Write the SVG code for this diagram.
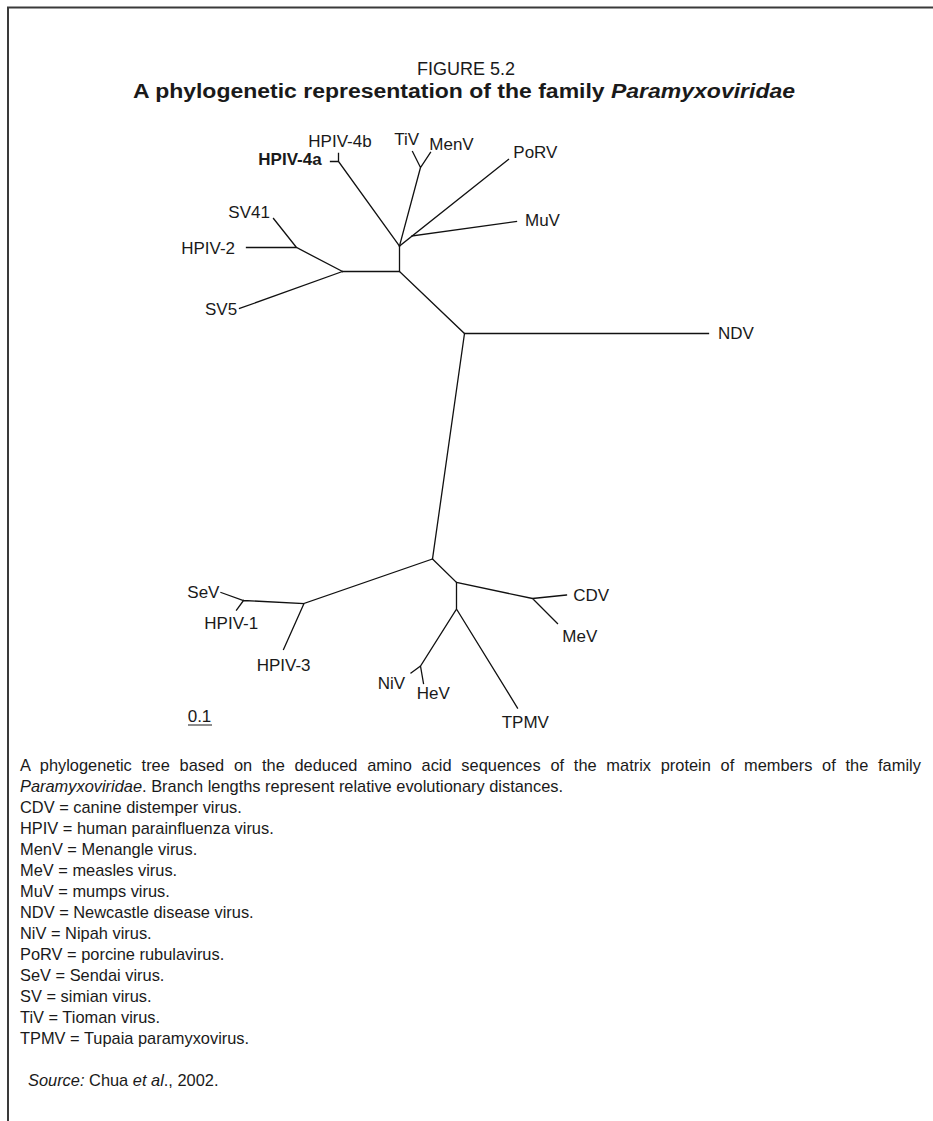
<svg xmlns="http://www.w3.org/2000/svg" width="933" height="1121" viewBox="0 0 933 1121">
<style>
.frame{stroke:#3a3a3a;stroke-width:2;fill:none}
.br{stroke:#111;stroke-width:1.3;fill:none;stroke-linecap:square}
.lb{font-family:"Liberation Sans",Arial,sans-serif;font-size:17px;fill:#1a1a1a}
.lbb{font-family:"Liberation Sans",Arial,sans-serif;font-size:17px;font-weight:bold;fill:#1a1a1a}
.cap{font-family:"Liberation Sans",Arial,sans-serif;font-size:16.4px;fill:#1a1a1a}
.t1{font-family:"Liberation Sans",Arial,sans-serif;font-size:18px;fill:#1a1a1a}
.t2{font-family:"Liberation Sans",Arial,sans-serif;font-size:20px;font-weight:bold;fill:#1a1a1a}
</style>
<rect width="933" height="1121" fill="#ffffff"/>
<g id="frame">
<path class="frame" d="M933 7.5 H8 V1121"/>
</g>
<g id="title">
<text class="t1" x="466" y="75" text-anchor="middle">FIGURE 5.2</text>
<text class="t2" x="133" y="98" textLength="662" lengthAdjust="spacingAndGlyphs">A phylogenetic representation of the family <tspan font-style="italic">Paramyxoviridae</tspan></text>
</g>
<g id="connectors">
<path class="br" d="M342.5 271.5 H399.5 V246"/>
<path class="br" d="M399.5 246 L338.5 161.5 V153.5 M338.5 161.5 H330.5"/>
<path class="br" d="M399.5 246 L420.5 167.5 L412.5 151.5 M420.5 167.5 L430.5 152.5"/>
<path class="br" d="M399.5 246 L508.5 159.5"/>
<path class="br" d="M412 236 L516.5 221.5"/>
<path class="br" d="M342.5 271.5 L239.5 308.5"/>
<path class="br" d="M342.5 271.5 L296.5 247.5 H246.5 M296.5 247.5 L273.5 218.5"/>
<path class="br" d="M399.5 271.5 L464.5 333.5 H708.5"/>
<path class="br" d="M464.5 333.5 L432.5 559"/>
<path class="br" d="M432.5 559 L304 603.5 L283.5 649.5 M304 603.5 L243.5 600.5 L221 592.5 M243.5 600.5 L236.5 610"/>
<path class="br" d="M432.5 559 L456.5 582.5 L532.5 598.5 L566.5 595 M532.5 598.5 L557.5 623.5"/>
<path class="br" d="M456.5 582.5 V609 L420.5 666 L411 673 M420.5 666 L423.5 683.5 M456.5 609 L517.5 708"/>
</g>
<g id="node-HPIV-4b"><text class="lb" x="308.3" y="146.5">HPIV-4b</text></g>
<g id="node-HPIV-4a"><text class="lbb" x="258.3" y="165">HPIV-4a</text></g>
<g id="node-TiV"><text class="lb" x="394.3" y="145">TiV</text></g>
<g id="node-MenV"><text class="lb" x="429.3" y="150">MenV</text></g>
<g id="node-PoRV"><text class="lb" x="513.3" y="157.5">PoRV</text></g>
<g id="node-MuV"><text class="lb" x="525" y="226">MuV</text></g>
<g id="node-SV41"><text class="lb" x="228.3" y="218">SV41</text></g>
<g id="node-HPIV-2"><text class="lb" x="235" y="254" text-anchor="end">HPIV-2</text></g>
<g id="node-SV5"><text class="lb" x="205" y="315">SV5</text></g>
<g id="node-NDV"><text class="lb" x="718" y="339">NDV</text></g>
<g id="node-SeV"><text class="lb" x="187.3" y="597.5">SeV</text></g>
<g id="node-HPIV-1"><text class="lb" x="204.3" y="628.5">HPIV-1</text></g>
<g id="node-HPIV-3"><text class="lb" x="256.7" y="671">HPIV-3</text></g>
<g id="node-NiV"><text class="lb" x="377.7" y="688.5">NiV</text></g>
<g id="node-HeV"><text class="lb" x="416.7" y="699">HeV</text></g>
<g id="node-TPMV"><text class="lb" x="501.7" y="727.5">TPMV</text></g>
<g id="node-CDV"><text class="lb" x="573.3" y="601">CDV</text></g>
<g id="node-MeV"><text class="lb" x="562.3" y="641.5">MeV</text></g>
<g id="scale">
<text class="lb" x="187.7" y="722">0.1</text>
<line x1="188" y1="725" x2="212" y2="725" stroke="#1a1a1a" stroke-width="1"/>
</g>
<g id="caption">
<text class="cap" x="20" y="771" word-spacing="5.2">A phylogenetic tree based on the deduced amino acid sequences of the matrix protein of members of the family</text>
<text class="cap" x="20" y="792"><tspan font-style="italic">Paramyxoviridae</tspan>. Branch lengths represent relative evolutionary distances.</text>
<text class="cap" x="20" y="813">CDV = canine distemper virus.</text>
<text class="cap" x="20" y="834">HPIV = human parainfluenza virus.</text>
<text class="cap" x="20" y="855">MenV = Menangle virus.</text>
<text class="cap" x="20" y="876">MeV = measles virus.</text>
<text class="cap" x="20" y="897">MuV = mumps virus.</text>
<text class="cap" x="20" y="918">NDV = Newcastle disease virus.</text>
<text class="cap" x="20" y="939">NiV = Nipah virus.</text>
<text class="cap" x="20" y="960">PoRV = porcine rubulavirus.</text>
<text class="cap" x="20" y="981">SeV = Sendai virus.</text>
<text class="cap" x="20" y="1002">SV = simian virus.</text>
<text class="cap" x="20" y="1023">TiV = Tioman virus.</text>
<text class="cap" x="20" y="1044">TPMV = Tupaia paramyxovirus.</text>
<text class="cap" x="28" y="1086"><tspan font-style="italic">Source:</tspan> Chua <tspan font-style="italic">et al</tspan>., 2002.</text>
</g>
</svg>
